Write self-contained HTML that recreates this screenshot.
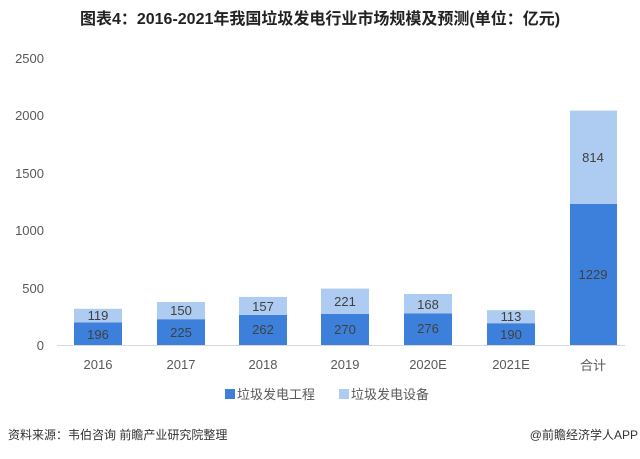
<!DOCTYPE html>
<html><head><meta charset="utf-8"><style>
body{margin:0;background:#fff;}
svg text{font-family:"Liberation Sans","Noto Sans CJK SC",sans-serif;}
</style></head><body>
<svg width="640" height="454" xmlns="http://www.w3.org/2000/svg">
<text x="320" y="24" text-anchor="middle" font-size="16" font-weight="bold" fill="#222">图表4：2016-2021年我国垃圾发电行业市场规模及预测(单位：亿元)</text>
<g font-size="13" fill="#595959" text-anchor="end">
<text x="44" y="63">2500</text><text x="44" y="120">2000</text><text x="44" y="178">1500</text>
<text x="44" y="235">1000</text><text x="44" y="293">500</text><text x="44" y="350">0</text>
</g>
<line x1="57" y1="345.5" x2="625" y2="345.5" stroke="#d9d9d9"/>
<g>
<rect x="74" y="322.5" width="48" height="22.5" fill="#3d80dc"/><rect x="74" y="308.8" width="48" height="13.7" fill="#aecbf2"/>
<rect x="157" y="319.2" width="48" height="25.8" fill="#3d80dc"/><rect x="157" y="302" width="48" height="17.2" fill="#aecbf2"/>
<rect x="239" y="314.9" width="48" height="30.1" fill="#3d80dc"/><rect x="239" y="296.9" width="48" height="18" fill="#aecbf2"/>
<rect x="321" y="314" width="48" height="31" fill="#3d80dc"/><rect x="321" y="288.6" width="48" height="25.4" fill="#aecbf2"/>
<rect x="404" y="313.3" width="48" height="31.7" fill="#3d80dc"/><rect x="404" y="294" width="48" height="19.3" fill="#aecbf2"/>
<rect x="487" y="323.2" width="48" height="21.8" fill="#3d80dc"/><rect x="487" y="310.2" width="48" height="13" fill="#aecbf2"/>
<rect x="570" y="204" width="47" height="141" fill="#3d80dc"/><rect x="570" y="110.6" width="47" height="93.4" fill="#aecbf2"/>
</g>
<g font-size="13" fill="#404040" text-anchor="middle">
<text x="98" y="339">196</text><text x="98" y="320">119</text>
<text x="181" y="337">225</text><text x="181" y="315">150</text>
<text x="263" y="334">262</text><text x="263" y="311">157</text>
<text x="345" y="334">270</text><text x="345" y="306">221</text>
<text x="428" y="333">276</text><text x="428" y="309">168</text>
<text x="511" y="339">190</text><text x="511" y="321">113</text>
<text x="593" y="279">1229</text><text x="593" y="162">814</text>
</g>
<g font-size="13" fill="#595959" text-anchor="middle">
<text x="98" y="369">2016</text><text x="181" y="369">2017</text><text x="263" y="369">2018</text>
<text x="345" y="369">2019</text><text x="428" y="369">2020E</text><text x="511" y="369">2021E</text><text x="593" y="370">合计</text>
</g>
<rect x="225" y="389" width="10" height="10" fill="#3d80dc"/>
<text x="237" y="399" font-size="13" fill="#595959">垃圾发电工程</text>
<rect x="339" y="389" width="10" height="10" fill="#aecbf2"/>
<text x="351" y="399" font-size="13" fill="#595959">垃圾发电设备</text>
<text x="8" y="439" font-size="12" fill="#333">资料来源：韦伯咨询 前瞻产业研究院整理</text>
<text x="638" y="439" font-size="12" fill="#333" text-anchor="end">@前瞻经济学人APP</text>
</svg>
</body></html>
